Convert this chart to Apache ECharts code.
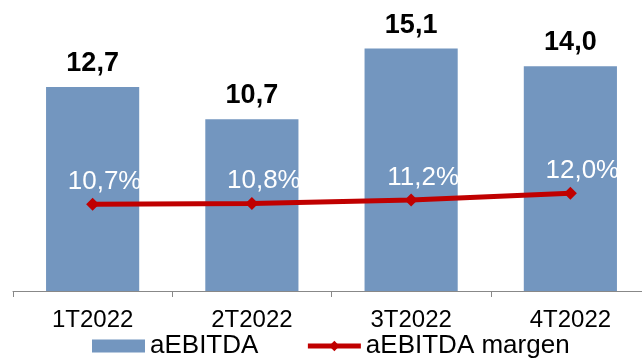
<!DOCTYPE html>
<html>
<head>
<meta charset="utf-8">
<script src="https://cdn.jsdelivr.net/npm/echarts@6/dist/echarts.min.js"></script>
<style>
  html, body { margin: 0; padding: 0; background: #fff; overflow: hidden; }
  body { width: 642px; height: 358px; }
  /* the plot runs a few pixels past the right edge of the page */
  #chart { width: 650px; height: 358px; }
</style>
</head>
<body>
<div id="chart"></div>
<script>
// Quarterly aEBITDA and margin
const quarters = ['1T2022', '2T2022', '3T2022', '4T2022'];
const aebitda = [12.7, 10.7, 15.1, 14.0];
const margen = [10.7, 10.8, 11.2, 12.0];

const fmt = (v, d) => v.toFixed(d).replace('.', ',');
const FONT = '"Liberation Sans", Arial, sans-serif';

const chart = echarts.init(document.getElementById('chart'), null, { renderer: 'canvas' });
chart.setOption({
  animation: false,
  textStyle: { fontFamily: FONT },
  grid: { left: 13, right: 0, top: 2, bottom: 67, containLabel: false },
  legend: {
    left: 87,
    top: 328,
    itemWidth: 53,
    itemHeight: 13,
    itemGap: 47,
    textStyle: { fontFamily: FONT, fontSize: 26, color: '#000' },
    data: [
      { name: 'aEBITDA', icon: 'rect' },
      { name: 'aEBITDA margen', lineStyle: { width: 5, color: '#c00000' } }
    ]
  },
  xAxis: {
    type: 'category',
    data: quarters,
    axisLine: { lineStyle: { color: '#888', width: 1 } },
    axisTick: { show: true, length: 6, lineStyle: { color: '#888' } },
    axisLabel: { color: '#000', fontSize: 24, fontFamily: FONT, margin: 17 }
  },
  yAxis: [
    { type: 'value', min: 0, max: 18, show: false, splitLine: { show: false } },
    { type: 'value', min: 0.45, max: 34.6, show: false, splitLine: { show: false } }
  ],
  series: [
    {
      name: 'aEBITDA',
      type: 'bar',
      data: aebitda,
      barWidth: '58.5%',
      itemStyle: { color: '#7396bf' },
      label: {
        show: true,
        position: 'top',
        distance: 10,
        fontFamily: FONT,
        fontSize: 27,
        fontWeight: 'bold',
        color: '#000',
        formatter: p => fmt(p.value, 1)
      }
    },
    {
      name: 'aEBITDA margen',
      type: 'line',
      yAxisIndex: 1,
      data: margen,
      symbol: 'diamond',
      symbolSize: 13,
      lineStyle: { color: '#c00000', width: 5 },
      itemStyle: { color: '#c00000' },
      label: {
        show: true,
        position: 'top',
        distance: 3,
        offset: [12, 0],
        fontFamily: FONT,
        fontSize: 26,
        color: '#fff',
        formatter: p => fmt(p.value, 1) + '%'
      }
    }
  ]
});
</script>
</body>
</html>
